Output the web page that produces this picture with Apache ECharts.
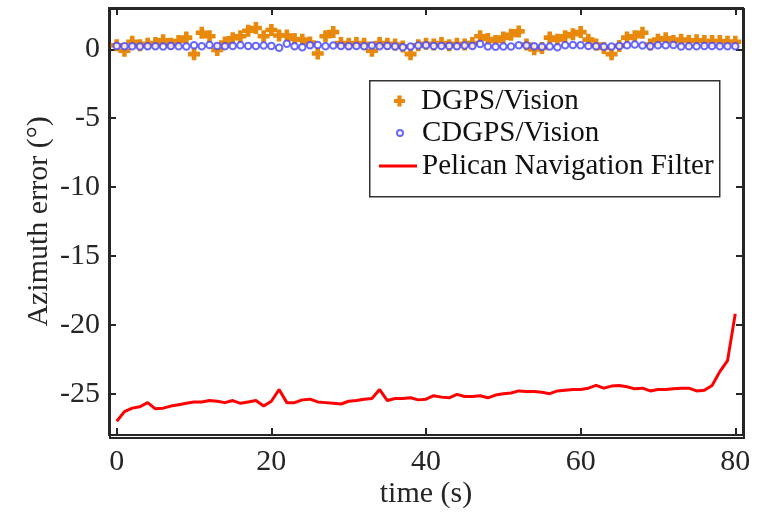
<!DOCTYPE html>
<html>
<head>
<meta charset="utf-8">
<script src="https://cdn.jsdelivr.net/npm/echarts@6/dist/echarts.min.js"></script>
<style>
  html, body { margin: 0; padding: 0; background: #fff; }
  #chart { width: 762px; height: 514px; }
</style>
</head>
<body>
<div id="chart"></div>
<script>
// Sample times (s)
const time = [
  0, 1, 2, 3, 4, 5, 6, 7, 8, 9,
  10, 11, 12, 13, 14, 15, 16, 17, 18, 19,
  20, 21, 22, 23, 24, 25, 26, 27, 28, 29,
  30, 31, 32, 33, 34, 35, 36, 37, 38, 39,
  40, 41, 42, 43, 44, 45, 46, 47, 48, 49,
  50, 51, 52, 53, 54, 55, 56, 57, 58, 59,
  60, 61, 62, 63, 64, 65, 66, 67, 68, 69,
  70, 71, 72, 73, 74, 75, 76, 77, 78, 79,
  80
];

// Azimuth error (deg) – DGPS/Vision
const dgpsVision = [
  0.30, -0.10, 0.55, 0.30, 0.40, 0.45, 0.65, 0.40, 0.60, 0.85,
  -0.35, 1.20, 0.95, -0.05, 0.50, 0.80, 0.95, 1.35, 1.55, 0.95,
  1.40, 1.00, 1.00, 0.75, 0.70, 0.50, -0.30, 0.95, 1.25, 0.45,
  0.40, 0.45, 0.40, -0.10, 0.45, 0.40, 0.35, 0.20, -0.35, 0.30,
  0.40, 0.35, 0.45, 0.30, 0.40, 0.35, 0.45, 0.95, 0.75, 0.60,
  0.85, 1.05, 1.30, 0.35, 0.00, 0.10, 0.85, 0.70, 0.95, 1.10,
  1.25, 0.70, 0.35, 0.10, -0.35, 0.25, 0.85, 0.95, 1.20, 0.35,
  0.70, 0.80, 0.60, 0.70, 0.60, 0.65, 0.60, 0.60, 0.60, 0.55,
  0.55
];

// Azimuth error (deg) – CDGPS/Vision
const cdgpsVision = [
  0.25, 0.22, 0.22, 0.20, 0.22, 0.22, 0.20, 0.25, 0.22, 0.20,
  0.30, 0.22, 0.32, 0.25, 0.22, 0.25, 0.30, 0.25, 0.25, 0.28,
  0.25, 0.12, 0.40, 0.22, 0.15, 0.30, 0.32, 0.22, 0.28, 0.25,
  0.22, 0.25, 0.22, 0.28, 0.22, 0.25, 0.20, 0.15, 0.20, 0.28,
  0.30, 0.25, 0.25, 0.25, 0.22, 0.28, 0.25, 0.38, 0.20, 0.18,
  0.20, 0.20, 0.30, 0.28, 0.22, 0.18, 0.20, 0.15, 0.30, 0.32,
  0.30, 0.25, 0.22, 0.18, 0.20, 0.25, 0.30, 0.35, 0.28, 0.22,
  0.30, 0.30, 0.32, 0.20, 0.22, 0.22, 0.25, 0.25, 0.22, 0.22,
  0.22
];

// Azimuth error (deg) – Pelican Navigation Filter
const pelicanFilter = [
  -27.00, -26.30, -26.05, -25.95, -25.65, -26.10, -26.05, -25.90, -25.80, -25.70,
  -25.60, -25.60, -25.50, -25.55, -25.65, -25.50, -25.70, -25.60, -25.50, -25.90,
  -25.55, -24.70, -25.65, -25.65, -25.45, -25.40, -25.60, -25.65, -25.70, -25.75,
  -25.55, -25.50, -25.40, -25.35, -24.70, -25.50, -25.35, -25.35, -25.30, -25.45,
  -25.40, -25.15, -25.25, -25.30, -25.05, -25.20, -25.20, -25.15, -25.30, -25.10,
  -25.00, -24.95, -24.80, -24.85, -24.85, -24.90, -25.00, -24.80, -24.75, -24.70,
  -24.70, -24.60, -24.40, -24.60, -24.45, -24.40, -24.50, -24.65, -24.60, -24.80,
  -24.70, -24.70, -24.65, -24.60, -24.60, -24.80, -24.75, -24.40, -23.40, -22.60,
  -19.20
];

// Tick labels
const xTicks = [0, 20, 40, 60, 80];
const yTicks = [-25, -20, -15, -10, -5, 0];

const seriesNames = ['DGPS/Vision', 'CDGPS/Vision', 'Pelican Navigation Filter'];

const FONT = 'Liberation Serif, Times New Roman, serif';
const INK = '#262626';
const ORANGE = '#E8890C';
const BLUE = '#4444ff';
const RED = '#ff0000';
const PLUS = 'path://M4,0H9V4H13V9H9V13H4V9H0V4H4Z';

const pairs = (ys) => time.map((t, i) => [t, ys[i]]);

const axisCommon = {
  type: 'value',
  axisLine: { show: true, onZero: false, lineStyle: { color: INK, width: 2 } },
  splitLine: { show: false }
};

const legendText = { fontFamily: FONT, fontSize: 29, color: '#111', lineHeight: 30 };

const chart = echarts.init(document.getElementById('chart'), null, { renderer: 'canvas' });
chart.setOption({
  backgroundColor: '#fff',
  animation: false,
  grid: { left: 109, right: 19, top: 8, bottom: 77, show: false },
  xAxis: [
    Object.assign({}, axisCommon, {
      position: 'bottom', min: -1, max: 81,
      axisTick: { inside: true, length: 7, customValues: xTicks, lineStyle: { color: INK, width: 2 } },
      axisLabel: { customValues: xTicks, margin: 12, fontFamily: FONT, fontSize: 30, color: INK },
      name: 'time (s)', nameLocation: 'middle', nameGap: 44, nameMoveOverlap: false,
      nameTextStyle: { fontFamily: FONT, fontSize: 30, color: INK }
    }),
    Object.assign({}, axisCommon, {
      position: 'top', min: -1, max: 81,
      axisTick: { inside: true, length: 7, customValues: xTicks, lineStyle: { color: INK, width: 2 } },
      axisLabel: { show: false }
    })
  ],
  yAxis: [
    Object.assign({}, axisCommon, {
      position: 'left', min: -28, max: 3,
      axisTick: { inside: true, length: 7, customValues: yTicks, lineStyle: { color: INK, width: 2 } },
      axisLabel: { customValues: yTicks, margin: 9, fontFamily: FONT, fontSize: 30, color: INK },
      name: 'Azimuth error (°)', nameLocation: 'middle', nameGap: 55, nameRotate: 90, nameMoveOverlap: false,
      nameTextStyle: { fontFamily: FONT, fontSize: 30, color: INK }
    }),
    Object.assign({}, axisCommon, {
      position: 'right', min: -28, max: 3,
      axisTick: { inside: true, length: 7, customValues: yTicks, lineStyle: { color: INK, width: 2 } },
      axisLabel: { show: false }
    })
  ],
  legend: [
    {
      data: [{ name: seriesNames[0], icon: PLUS, itemStyle: { color: ORANGE } }],
      left: 394, top: 86, padding: 0, itemWidth: 11, itemHeight: 11,
      textStyle: Object.assign({ padding: [0, 0, 0, 11] }, legendText),
      selectedMode: false
    },
    {
      data: [{ name: seriesNames[1], icon: 'emptyCircle', itemStyle: { color: BLUE, borderColor: BLUE, borderWidth: 1.5 } }],
      left: 396, top: 118, padding: 0, itemWidth: 6, itemHeight: 6,
      textStyle: Object.assign({ padding: [0, 0, 0, 14] }, legendText),
      selectedMode: false
    },
    {
      data: [{ name: seriesNames[2], icon: 'rect', itemStyle: { color: RED } }],
      left: 379, top: 151, padding: 0, itemWidth: 38, itemHeight: 3,
      textStyle: Object.assign({ padding: [0, 0, 0, 0] }, legendText),
      selectedMode: false
    }
  ],
  graphic: [
    {
      type: 'rect', left: 369, top: 80, z: 5, silent: true,
      shape: { width: 350, height: 116 },
      style: { fill: 'rgba(0,0,0,0)', stroke: '#333', lineWidth: 1.5 }
    },
    {
      type: 'rect', left: 109, top: 8, z: 1, silent: true,
      shape: { width: 634, height: 429 },
      style: { fill: 'rgba(0,0,0,0)', stroke: INK, lineWidth: 2 }
    }
  ],
  series: [
    {
      name: seriesNames[0], type: 'scatter', data: pairs(dgpsVision),
      symbol: PLUS, symbolSize: 12,
      itemStyle: { color: ORANGE, opacity: 1 }, z: 2
    },
    {
      name: seriesNames[1], type: 'scatter', data: pairs(cdgpsVision),
      symbol: 'emptyCircle', symbolSize: 6.5,
      itemStyle: { color: BLUE, borderColor: BLUE, borderWidth: 1.3 }, z: 3
    },
    {
      name: seriesNames[2], type: 'line', data: pairs(pelicanFilter),
      showSymbol: false, symbol: 'none',
      lineStyle: { color: RED, width: 3 }, itemStyle: { color: RED }, z: 4
    }
  ]
});
</script>
</body>
</html>
